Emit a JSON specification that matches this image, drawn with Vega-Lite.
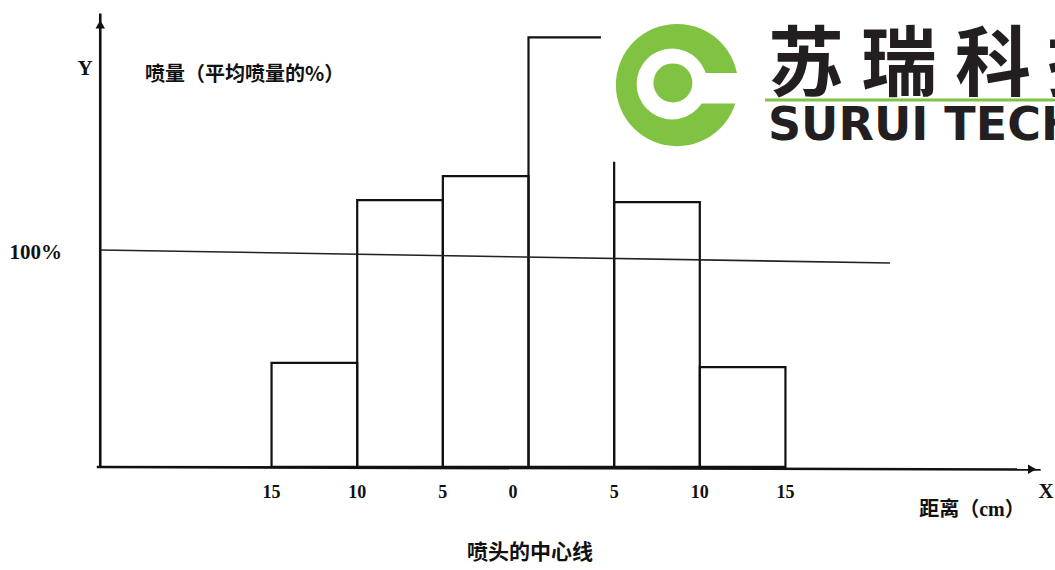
{
  "$schema": "https://vega.github.io/schema/vega-lite/v6.json",
  "width": 1055,
  "height": 570,
  "padding": 0,
  "autosize": {"type": "none"},
  "background": "white",
  "config": {"view": {"stroke": null}},
  "datasets": {
    "bars": [
      {"x": -15, "x2": -10, "y": 0, "y2": 48},
      {"x": -10, "x2": -5, "y": 0, "y2": 123},
      {"x": -5, "x2": 0, "y": 0, "y2": 134},
      {"x": 0, "x2": 5, "y": 0, "y2": 198},
      {"x": 5, "x2": 10, "y": 0, "y2": 122},
      {"x": 10, "x2": 15, "y": 0, "y2": 46}
    ],
    "axes": [
      {"seg": "yaxis", "x": -25, "y": -0.3},
      {"seg": "yaxis", "x": -25, "y": 209},
      {"seg": "xaxis", "x": -25.2, "y": 0},
      {"seg": "xaxis", "x": 29.9, "y": -1.2}
    ],
    "ref": [
      {"x": -25, "y": 100},
      {"x": 21.1, "y": 94}
    ],
    "arrows": [
      {"x": -25, "y": 204, "shape": "triangle-up"},
      {"x": 29.4, "y": -1.1, "shape": "triangle-right"}
    ],
    "ticks": [
      {"x": -15, "y": -12, "label": "15"},
      {"x": -10, "y": -12, "label": "10"},
      {"x": -5, "y": -12, "label": "5"},
      {"x": -0.9, "y": -12, "label": "0"},
      {"x": 5, "y": -12, "label": "5"},
      {"x": 10, "y": -12, "label": "10"},
      {"x": 15, "y": -12, "label": "15"}
    ],
    "logoBg": [{"x": 4.23, "x2": 31, "y": 140.6, "y2": 216}],
    "logoBig": [{"x": 8.67, "y": 176}],
    "logoHole": [{"x": 8.38, "y": 176.5}],
    "logoSlot": [{"x": 9.6, "x2": 12.93, "y": 167.5, "y2": 181.6}],
    "logoDot": [{"x": 8.43, "y": 177}],
    "logoLine": [{"x": 13.81, "x2": 31, "y": 169.1}],
    "logoChars": [
      {"x": 16.2, "y": 184.2, "label": "苏"},
      {"x": 21.63, "y": 184.2, "label": "瑞"},
      {"x": 27.12, "y": 184.2, "label": "科"},
      {"x": 32.49, "y": 184.2, "label": "技"}
    ],
    "logoEn": [{"x": 13.98, "y": 157.3, "label": "SURUI TECH"}]
  },
  "encoding": {
    "x": {"field": "x", "type": "quantitative", "scale": {"domain": [-30.853, 30.736], "nice": false, "zero": false}, "axis": null},
    "y": {"field": "y", "type": "quantitative", "scale": {"domain": [-47.5, 215.2], "nice": false, "zero": false}, "axis": null}
  },
  "layer": [
    {
      "data": {"name": "bars"},
      "mark": {"type": "rect", "fill": null, "fillOpacity": 0, "stroke": "#111", "strokeWidth": 2.2},
      "encoding": {"x2": {"field": "x2"}, "y2": {"field": "y2"}}
    },
    {
      "data": {"name": "ref"},
      "mark": {"type": "line", "color": "#222", "strokeWidth": 1.6},
      "encoding": {}
    },
    {
      "data": {"name": "axes"},
      "mark": {"type": "line", "color": "#111", "strokeWidth": 2.6},
      "encoding": {"detail": {"field": "seg"}}
    },
    {
      "data": {"name": "arrows"},
      "mark": {"type": "point", "filled": true, "color": "#111", "size": 90, "opacity": 1},
      "encoding": {"shape": {"field": "shape", "type": "nominal", "scale": null}}
    },
    {
      "data": {"name": "ticks"},
      "mark": {"type": "text", "font": "Liberation Serif", "fontWeight": "bold", "fontSize": 18, "color": "#111", "baseline": "middle", "align": "center"},
      "encoding": {"text": {"field": "label"}}
    },
    {
      "data": {"values": [{"x": -25.89, "y": 183.4, "label": "Y"}, {"x": 30.21, "y": -11.5, "label": "X"}]},
      "mark": {"type": "text", "font": "Liberation Serif", "fontWeight": "bold", "fontSize": 21, "color": "#111", "baseline": "middle", "align": "center"},
      "encoding": {"text": {"field": "label"}}
    },
    {
      "data": {"values": [{"x": -27.23, "y": 98.6, "label": "100%"}]},
      "mark": {"type": "text", "font": "Liberation Serif", "fontWeight": "bold", "fontSize": 21, "color": "#111", "baseline": "middle", "align": "right"},
      "encoding": {"text": {"field": "label"}}
    },
    {
      "data": {"values": [{"x": -22.39, "y": 180.6, "label": "喷量（平均喷量的%）"}]},
      "mark": {"type": "text", "font": "Noto Sans CJK SC", "fontWeight": "bold", "fontSize": 20, "color": "#111", "baseline": "middle", "align": "left"},
      "encoding": {"text": {"field": "label"}}
    },
    {
      "data": {"values": [{"x": 25.89, "y": -19.8, "label": "距离（cm）"}]},
      "mark": {"type": "text", "font": "'Liberation Serif', 'Noto Sans CJK SC'", "fontWeight": "bold", "fontSize": 20, "color": "#111", "baseline": "middle", "align": "center"},
      "encoding": {"text": {"field": "label"}}
    },
    {
      "data": {"values": [{"x": 0.09, "y": -39.6, "label": "喷头的中心线"}]},
      "mark": {"type": "text", "font": "Noto Sans CJK SC", "fontWeight": "bold", "fontSize": 21, "color": "#111", "baseline": "middle", "align": "center"},
      "encoding": {"text": {"field": "label"}}
    },
    {
      "data": {"name": "logoBg"},
      "mark": {"type": "rect", "fill": "white", "stroke": null},
      "encoding": {"x2": {"field": "x2"}, "y2": {"field": "y2"}}
    },
    {
      "data": {"name": "logoBig"},
      "mark": {"type": "point", "shape": "circle", "filled": true, "color": "#80c342", "size": 14957, "opacity": 1},
      "encoding": {}
    },
    {
      "data": {"name": "logoHole"},
      "mark": {"type": "point", "shape": "circle", "filled": true, "color": "white", "size": 5027, "opacity": 1},
      "encoding": {}
    },
    {
      "data": {"name": "logoSlot"},
      "mark": {"type": "rect", "fill": "white", "stroke": null},
      "encoding": {"x2": {"field": "x2"}, "y2": {"field": "y2"}}
    },
    {
      "data": {"name": "logoDot"},
      "mark": {"type": "point", "shape": "circle", "filled": true, "color": "#80c342", "size": 1521, "opacity": 1},
      "encoding": {}
    },
    {
      "data": {"name": "logoLine"},
      "mark": {"type": "rule", "color": "#80c342", "strokeWidth": 3},
      "encoding": {"x2": {"field": "x2"}}
    },
    {
      "data": {"name": "logoChars"},
      "mark": {"type": "text", "font": "Noto Sans CJK SC", "fontWeight": "bold", "fontSize": 76, "color": "#231f20", "baseline": "middle", "align": "center"},
      "encoding": {"text": {"field": "label"}}
    },
    {
      "data": {"name": "logoEn"},
      "mark": {"type": "text", "font": "DejaVu Sans", "fontWeight": "bold", "fontSize": 46, "color": "#231f20", "baseline": "middle", "align": "left"},
      "encoding": {"text": {"field": "label"}}
    }
  ]
}
